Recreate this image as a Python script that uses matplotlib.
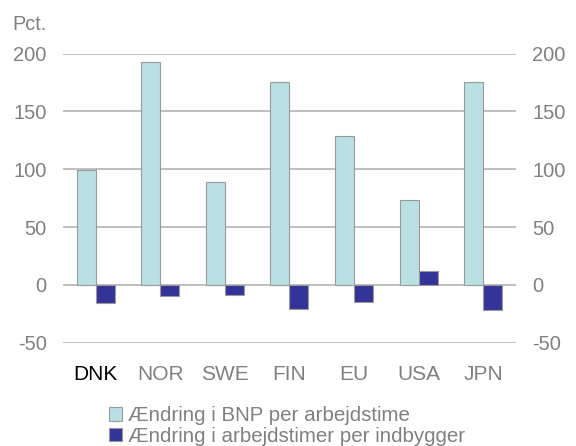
import matplotlib
matplotlib.use("Agg")
import matplotlib.pyplot as plt
import numpy as np
from matplotlib.patches import Patch

plt.rcParams['font.family'] = ['Liberation Sans', 'DejaVu Sans']
plt.rcParams['axes.unicode_minus'] = False

categories = ["DNK", "NOR", "SWE", "FIN", "EU", "USA", "JPN"]
bnp_per_hour = [99, 193, 89, 175, 129, 73, 175]
hours_per_capita = [-16, -10, -9, -20.5, -15, 12, -22]
yticks = [-50, 0, 50, 100, 150, 200]
legend_labels = ["Ændring i BNP per arbejdstime", "Ændring i arbejdstimer per indbygger"]

light = "#b9e0e3"
dark = "#333399"
gray_txt = "#808080"
grid_c = "#b4b4b4"

fig = plt.figure(figsize=(5.76, 4.46), dpi=100)
ax = fig.add_axes([0.11, 0.2316, 0.785, 0.6484])
x = np.arange(len(categories))
w = 0.295
ax.bar(x - w / 2, bnp_per_hour, w, color=light, edgecolor="#9a9a9a", linewidth=0.8, zorder=3)
ax.bar(x + w / 2, hours_per_capita, w, color=dark, edgecolor="#9a9a9a", linewidth=0.8, zorder=3)

ax.set_xlim(-0.5, len(categories) - 0.5)
ax.set_ylim(-50, 200)
ax.set_yticks(yticks)
for t in yticks:
    ax.axhline(t, color=grid_c, linewidth=1.2, zorder=1)
for s in ax.spines.values():
    s.set_visible(False)
ax.tick_params(axis="y", length=0, labelsize=14.5, colors=gray_txt, pad=12,
               labelright=True, right=False)
ax.tick_params(axis="x", length=0, labelsize=15, pad=16)
ax.set_xticks(x)
ax.set_xticklabels(categories)
for i, lbl in enumerate(ax.get_xticklabels()):
    lbl.set_color("black" if i == 0 else gray_txt)
for lbl in ax.get_yticklabels():
    lbl.set_color(gray_txt)

fig.text(0.022, 0.946, "Pct.", fontsize=14.3, color=gray_txt, va="center", ha="left")

handles = [Patch(facecolor=light, edgecolor="#9a9a9a", linewidth=0.8),
           Patch(facecolor=dark, edgecolor="#9a9a9a", linewidth=0.8)]
fig.legend(handles, legend_labels, loc="center left", bbox_to_anchor=(0.189, 0.045),
           frameon=False, fontsize=14.8, labelcolor=gray_txt, handlelength=0.62,
           handleheight=0.62, handletextpad=0.3, labelspacing=0.06, borderpad=0,
           borderaxespad=0)

fig.savefig("out.png", dpi=100)
